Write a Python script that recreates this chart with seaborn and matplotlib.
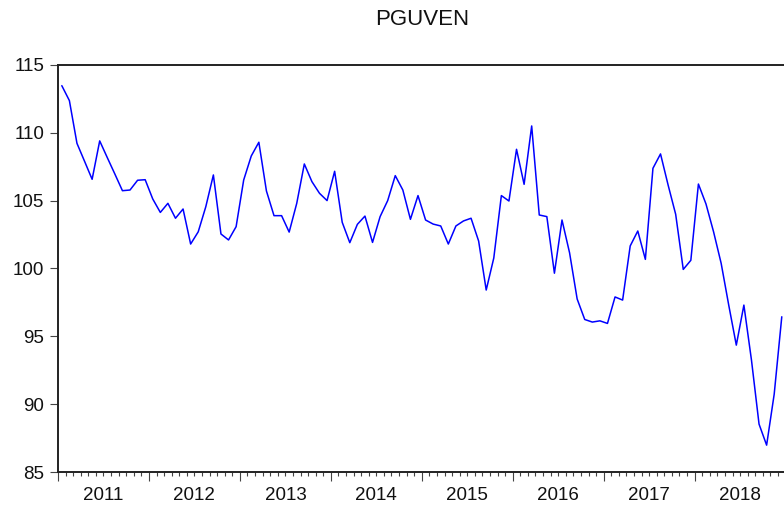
import matplotlib
matplotlib.use('Agg')
import matplotlib.pyplot as plt
import matplotlib.ticker as mticker
import numpy as np
import pandas as pd
import seaborn as sns

# monthly series 2011M01 - 2018M12
months = pd.period_range('2011-01', '2018-12', freq='M')
pguven = [
    113.47, 112.37, 109.22, 107.90, 106.57, 109.40, 108.17, 106.96, 105.73, 105.78, 106.50, 106.54,
    105.12, 104.13, 104.80, 103.70, 104.38, 101.80, 102.70, 104.55, 106.89, 102.54, 102.10, 103.08,
    106.52, 108.29, 109.30, 105.71, 103.89, 103.89, 102.68, 104.80, 107.70, 106.40, 105.54, 105.00,
    107.16, 103.40, 101.90, 103.25, 103.86, 101.92, 103.82, 105.00, 106.84, 105.78, 103.62, 105.37,
    103.57, 103.27, 103.13, 101.80, 103.13, 103.50, 103.70, 102.02, 98.41, 100.77, 105.37, 104.97,
    108.78, 106.20, 110.50, 103.94, 103.82, 99.65, 103.57, 101.15, 97.75, 96.24, 96.05, 96.14,
    95.95, 97.90, 97.67, 101.66, 102.76, 100.67, 107.38, 108.44, 106.15, 103.99, 99.93, 100.60,
    106.22, 104.75, 102.70, 100.38, 97.30, 94.35, 97.30, 93.25, 88.53, 86.98, 90.74, 96.44,
]
years = sorted(set(months.year))
y_ticks = [85, 90, 95, 100, 105, 110, 115]

df = pd.DataFrame({'month': months, 'value': pguven})
# place each observation at the middle of its month
df['pos'] = np.arange(len(df)) + 0.5

sns.set_style('white')
plt.rcParams['font.family'] = ['Liberation Sans', 'DejaVu Sans']

fig = plt.figure(figsize=(7.84, 5.07), dpi=100)
ax = fig.add_axes([0.074, 0.069, 0.928, 0.803])

sns.lineplot(data=df, x='pos', y='value', color='#0000ff', linewidth=1.1, ax=ax)

ax.set_xlim(0, len(df))
ax.set_ylim(85, 115)
ax.set_yticks(y_ticks)
ax.set_yticklabels([str(t) for t in y_ticks])

# year boundaries as major ticks, months as minor ticks, year label in the middle
ax.xaxis.set_major_locator(mticker.MultipleLocator(12))
ax.xaxis.set_major_formatter(mticker.NullFormatter())
ax.xaxis.set_minor_locator(mticker.MultipleLocator(1))


def year_label(x, pos):
    k = int(round(x))
    if k % 12 == 6:
        return str(years[0] + k // 12)
    return ''


ax.xaxis.set_minor_formatter(mticker.FuncFormatter(year_label))

ax.tick_params(axis='y', which='major', direction='out', length=6, width=0.8,
               color='#444444', labelsize=13.5, pad=4, left=True, labelcolor='#111111')
ax.tick_params(axis='x', which='major', direction='out', length=6.5, width=0.8,
               color='#444444', bottom=True)
ax.tick_params(axis='x', which='minor', direction='out', length=3, width=0.8,
               color='#444444', labelsize=13.5, pad=8, bottom=True, labelcolor='#111111')

for side in ['left', 'bottom', 'top']:
    ax.spines[side].set_color('#222222')
    ax.spines[side].set_linewidth(1.4)
ax.spines['right'].set_visible(False)

ax.set_xlabel('')
ax.set_ylabel('')
ax.set_title('PGUVEN', fontsize=16, pad=29, color='#111111')
ax.grid(False)

plt.savefig('out.png', dpi=100)
plt.close()
